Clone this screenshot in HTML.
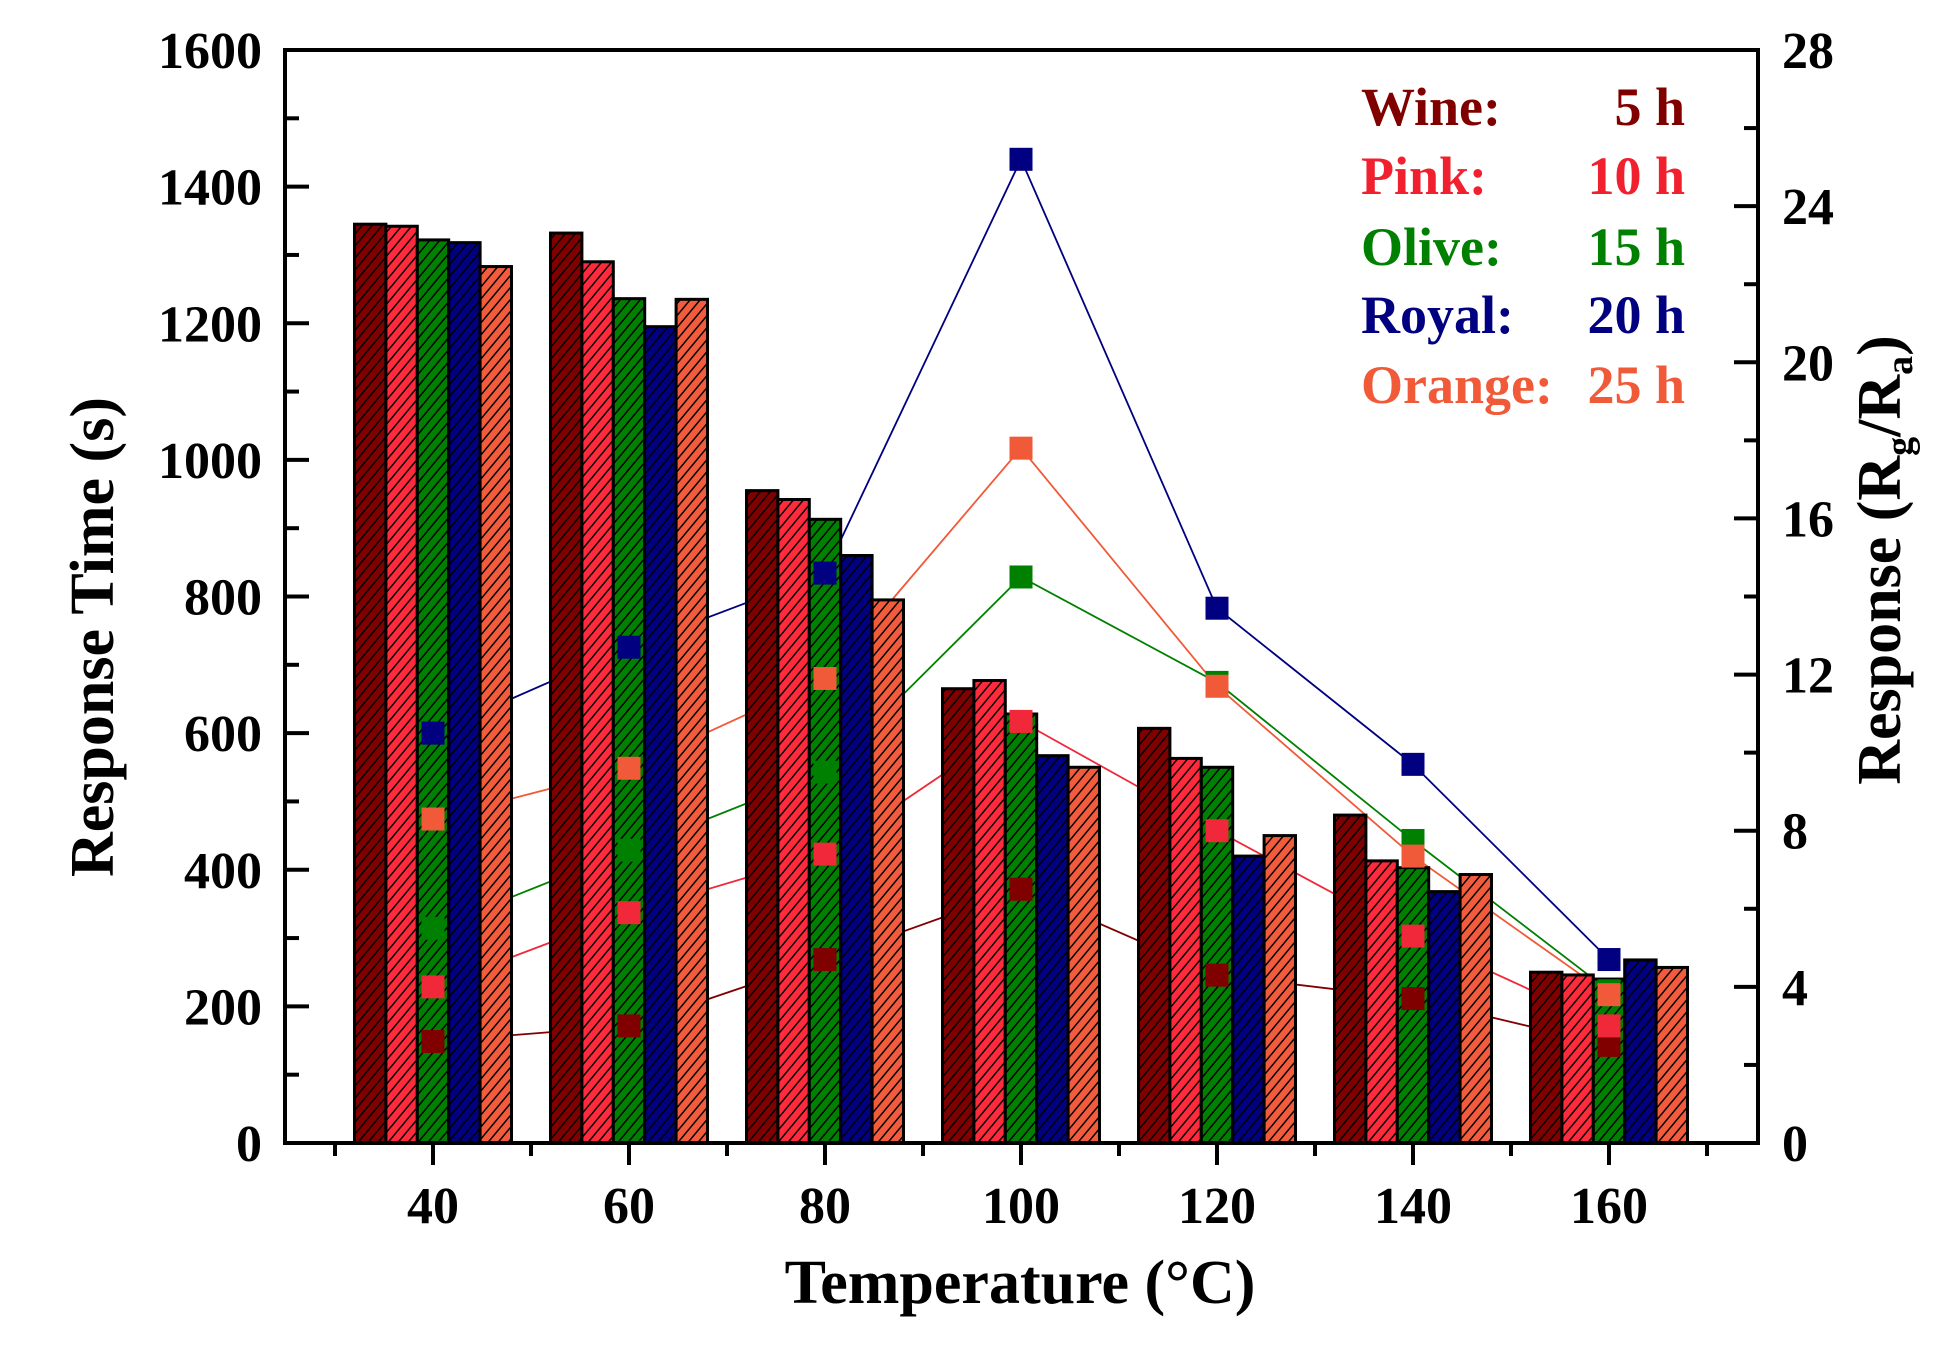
<!DOCTYPE html>
<html><head><meta charset="utf-8"><style>html,body{margin:0;padding:0;background:#fff}svg{display:block}</style></head>
<body>
<svg xmlns="http://www.w3.org/2000/svg" width="1960" height="1346" viewBox="0 0 1960 1346" font-family="'Liberation Serif',serif" font-weight="bold">
<defs>
<pattern id="h" patternUnits="userSpaceOnUse" width="10" height="12">
<path d="M-1,13.2 L11,-1.2 M-11,13.2 L1,-1.2 M9,13.2 L21,-1.2" stroke="#000" stroke-width="1.5"/>
</pattern>
</defs>
<rect width="1960" height="1346" fill="#fff"/>
<g id="lines" fill="none" stroke-width="1.8"></g>
<g id="bars"></g>
<g id="marks"></g>
<rect x="285" y="50" width="1473" height="1093" fill="none" stroke="#000" stroke-width="4"/>
<g id="ticks" stroke="#000" stroke-width="4"></g>
<g id="labels" font-size="52"></g>
<g id="legend" font-size="54">
<text x="1361" y="125" fill="#800000">Wine:</text><text x="1685" y="125" fill="#800000" text-anchor="end">5 h</text>
<text x="1361" y="194" fill="#f0202e">Pink:</text><text x="1685" y="194" fill="#f0202e" text-anchor="end">10 h</text>
<text x="1361" y="265" fill="#008000">Olive:</text><text x="1685" y="265" fill="#008000" text-anchor="end">15 h</text>
<text x="1361" y="333" fill="#000080">Royal:</text><text x="1685" y="333" fill="#000080" text-anchor="end">20 h</text>
<text x="1361" y="403" fill="#f05a38">Orange:</text><text x="1685" y="403" fill="#f05a38" text-anchor="end">25 h</text>
</g>
<text x="1020" y="1303" font-size="62" text-anchor="middle">Temperature (°C)</text>
<text transform="translate(113,637) rotate(-90)" font-size="62" text-anchor="middle">Response Time (s)</text>
<text transform="translate(1900,560) rotate(-90)" font-size="62" text-anchor="middle">Response  (R<tspan font-size="38" dy="12">g</tspan><tspan dy="-12">/R</tspan><tspan font-size="38" dy="12">a</tspan><tspan dy="-12">)</tspan></text>
</svg>
<script>
(function(){
var NS="http://www.w3.org/2000/svg";
function el(p,t,a,txt){var e=document.createElementNS(NS,t);for(var k in a)e.setAttribute(k,a[k]);if(txt!==undefined)e.textContent=txt;p.appendChild(e);return e;}
var X0=285,B=1143,T=50;
function tx(t){return 433+(t-40)*9.8;}
function yl(v){return B-v*(B-T)/1600;}
function yr(r){return B-r*(B-T)/28;}
var cols=["#800000","#ff2a3c","#008000","#000080","#f25c3c"];
var mcols=["#800000","#f0283a","#008000","#000080","#f05a38"];
var temps=[40,60,80,100,120,140,160];
var bars=[[1345,1342,1322,1318,1283],[1332,1290,1236,1195,1235],[955,942,913,860,795],[665,677,628,567,550],[607,563,550,420,450],[480,413,403,368,393],[250,246,240,268,257]];
var resp=[[2.6,3.0,4.7,6.5,4.3,3.7,2.5],[4.0,5.9,7.4,10.8,8.0,5.3,3.0],[5.5,7.5,9.5,14.5,11.8,7.75,3.9],[10.5,12.7,14.6,25.2,13.7,9.7,4.7],[8.3,9.6,11.9,17.8,11.7,7.35,3.8]];
var L=document.getElementById("lines"),Bg=document.getElementById("bars"),M=document.getElementById("marks");
for(var s=0;s<5;s++){var pts=temps.map(function(t,i){return tx(t)+","+yr(resp[s][i]).toFixed(1)}).join(" ");
el(L,"polyline",{points:pts,stroke:mcols[s]});}
var w=31.4;
temps.forEach(function(t,i){var x0=tx(t)-2.5*w;for(var s=0;s<5;s++){var x=x0+s*w,y=yl(bars[i][s]);
el(Bg,"rect",{x:x,y:y,width:w,height:B-y,fill:cols[s]});
el(Bg,"rect",{x:x,y:y,width:w,height:B-y,fill:"url(#h)",stroke:"#000","stroke-width":3});}});
for(var s=0;s<5;s++)temps.forEach(function(t,i){el(M,"rect",{x:tx(t)-11.5,y:yr(resp[s][i])-11.5,width:23,height:23,fill:mcols[s]});});
var TK=document.getElementById("ticks"),LB=document.getElementById("labels");
for(var t=30;t<=170;t+=10){var maj=(t%20==0);el(TK,"line",{x1:tx(t),y1:B,x2:tx(t),y2:B+(maj?22:13)});
if(maj&&t>=40&&t<=160)el(LB,"text",{x:tx(t),y:1223,"text-anchor":"middle"},String(t));}
for(var v=0;v<=1600;v+=100){var maj=(v%200==0),y=yl(v);el(TK,"line",{x1:X0,y1:y,x2:X0+(maj?24:14),y2:y});
if(maj)el(LB,"text",{x:262,y:y+18,"text-anchor":"end"},String(v));}
for(var r=0;r<=28;r+=2){var maj=(r%4==0),y=yr(r);el(TK,"line",{x1:1758,y1:y,x2:1758-(maj?24:14),y2:y});
if(maj)el(LB,"text",{x:1782,y:y+18},String(r));}
})();
</script>
</body></html>
